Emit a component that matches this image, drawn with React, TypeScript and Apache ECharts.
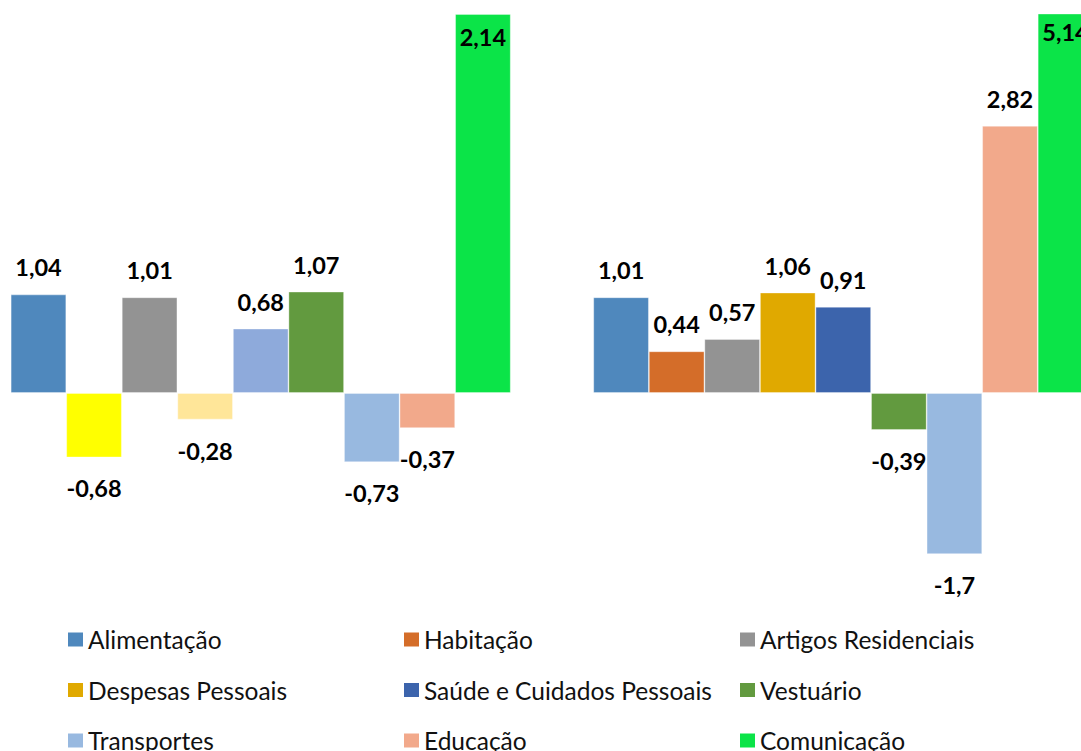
import React, { useEffect, useRef } from "react";
import * as echarts from "echarts";

const categories = [
  "Alimentação",
  "Habitação",
  "Artigos Residenciais",
  "Despesas Pessoais",
  "Saúde e Cuidados Pessoais",
  "Vestuário",
  "Transportes",
  "Educação",
  "Comunicação",
];

// Left panel: bar heights as drawn (the last bar runs past the top of the axis) and their labels
const leftValues = [1.04, -0.68, 1.01, -0.28, 0.68, 1.07, -0.73, -0.37, 4.0];
const leftLabels = ["1,04", "-0,68", "1,01", "-0,28", "0,68", "1,07", "-0,73", "-0,37", "2,14"];

// Right panel
const rightValues = [1.01, 0.44, 0.57, 1.06, 0.91, -0.39, -1.7, 2.82, 5.14];
const rightLabels = ["1,01", "0,44", "0,57", "1,06", "0,91", "-0,39", "-1,7", "2,82", "5,14"];

const colors = [
  "#4F88BD",
  "#D46D29",
  "#939393",
  "#E0A900",
  "#3C64AC",
  "#629A3F",
  "#98B9E0",
  "#F2A98B",
  "#0BE448",
];
const leftColors = [
  "#4F88BD",
  "#FFFF00",
  "#939393",
  "#FFE699",
  "#8EAADB",
  "#629A3F",
  "#98B9E0",
  "#F2A98B",
  "#0BE448",
];

const legendColumns = [
  [0, 3, 6],
  [1, 4, 7],
  [2, 5, 8],
];
const legendLefts = [68, 404, 740];

const yMin = -2;
const yMax = 4;

const FONT = "Lato, Carlito, Calibri, sans-serif";

export default function App() {
  const ref = useRef<HTMLDivElement>(null);

  useEffect(() => {
    document.body.style.margin = "0";
    if (!ref.current) return;
    const chart = echarts.init(ref.current, null, { renderer: "svg" });

    const makeSeries = (
      values: number[],
      labels: string[],
      cols: string[],
      axis: number,
      insideDist: number
    ) =>
      values.map((v, i) => ({
        name: categories[i],
        type: "bar",
        xAxisIndex: axis,
        yAxisIndex: axis,
        barGap: "0%",
        barCategoryGap: "0%",
        clip: true,
        itemStyle: {
          color: cols[i],
          borderColor: "rgba(255,255,255,0.45)",
          borderWidth: 0.8,
        },
        data: [
          {
            value: v,
            label: {
              show: true,
              position: v >= yMax ? "insideTop" : v >= 0 ? "top" : "bottom",
              distance: v >= yMax ? insideDist : v >= 0 ? 15 : 19,
              formatter: () => labels[i],
              color: "#000",
              fontWeight: "bold",
              fontSize: 23.5,
              fontFamily: FONT,
            },
          },
        ],
      }));

    const gridBase = {
      top: 14,
      width: 500,
      height: 568.5,
      outerBoundsMode: "none",
      containLabel: false,
    };

    const option: any = {
      animation: false,
      backgroundColor: "#fff",
      grid: [
        { ...gridBase, left: 10.7 },
        { ...gridBase, left: 593.3 },
      ],
      xAxis: [
        { type: "category", gridIndex: 0, data: ["A"], show: false },
        { type: "category", gridIndex: 1, data: ["B"], show: false },
      ],
      yAxis: [
        { type: "value", gridIndex: 0, min: yMin, max: yMax, show: false },
        { type: "value", gridIndex: 1, min: yMin, max: yMax, show: false },
      ],
      legend: legendColumns.map((col, c) => ({
        orient: "vertical",
        left: legendLefts[c],
        top: 627,
        height: 160,
        padding: 0,
        itemGap: 25.5,
        itemWidth: 15,
        itemHeight: 14,
        icon: "rect",
        selectedMode: false,
        textStyle: { fontSize: 24.5, fontFamily: FONT, color: "#111" },
        data: col.map((i) => ({
          name: categories[i],
          icon: "rect",
          itemStyle: { color: colors[i], borderWidth: 0 },
        })),
      })),
      series: [
        ...makeSeries(rightValues, rightLabels, colors, 1, 6.5),
        ...makeSeries(leftValues, leftLabels, leftColors, 0, 10.5),
      ],
    };
    chart.setOption(option);
    return () => chart.dispose();
  }, []);

  return <div ref={ref} style={{ width: 1081, height: 751 }} />;
}
